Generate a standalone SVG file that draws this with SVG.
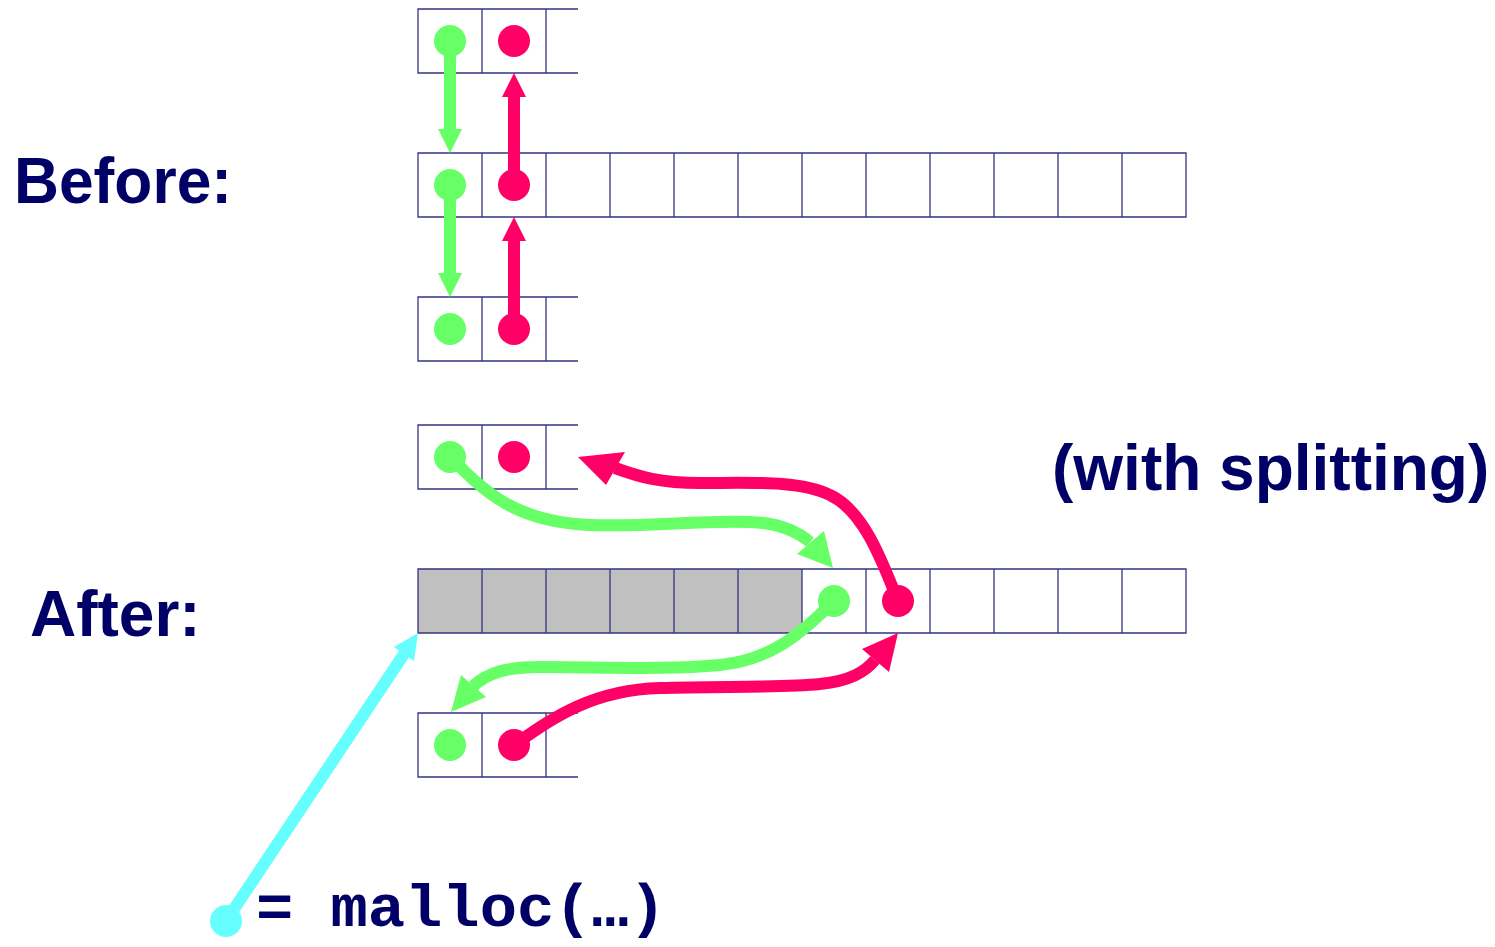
<svg xmlns="http://www.w3.org/2000/svg" width="1495" height="947" viewBox="0 0 1495 947">
<style>
.cell{fill:none;stroke:#34347f;stroke-width:1.3}
.gray{fill:#c0c0c0;stroke:none}
.lbl{font-family:"Liberation Sans",Arial,sans-serif;font-weight:bold;font-size:64px;fill:#000066}
.code{font-family:"Liberation Mono","Courier New",monospace;font-weight:bold;font-size:60px;fill:#000066}
.g{fill:#66ff66}
.r{fill:#ff0066}
.c{fill:#66ffff}
.gs{fill:none;stroke:#66ff66;stroke-width:12}
.rs{fill:none;stroke:#ff0066;stroke-width:12}
.cs{fill:none;stroke:#66ffff;stroke-width:12}
</style>
<rect width="1495" height="947" fill="#ffffff"/>

<g id="labels">
<text class="lbl" x="14" y="203" textLength="218" lengthAdjust="spacingAndGlyphs">Before:</text>
<text class="lbl" x="30" y="636">After:</text>
<text class="lbl" x="1052" y="490">(with splitting)</text>
<text class="code" x="256" y="926" textLength="410" lengthAdjust="spacingAndGlyphs">= malloc(…)</text>
</g>

<g id="before-top">
<path class="cell" d="M578,9 H418 V73 H578 M482,9 V73 M546,9 V73"/>
</g>
<g id="before-mid">
<path class="cell" d="M418,153 H1186 V217 H418 Z M482,153 V217 M546,153 V217 M610,153 V217 M674,153 V217 M738,153 V217 M802,153 V217 M866,153 V217 M930,153 V217 M994,153 V217 M1058,153 V217 M1122,153 V217"/>
</g>
<g id="before-bot">
<path class="cell" d="M578,297 H418 V361 H578 M482,297 V361 M546,297 V361"/>
</g>
<g id="after-top">
<path class="cell" d="M578,425 H418 V489 H578 M482,425 V489 M546,425 V489"/>
</g>
<g id="after-mid">
<rect class="gray" x="418" y="569" width="384" height="64"/>
<path class="cell" d="M418,569 H1186 V633 H418 Z M482,569 V633 M546,569 V633 M610,569 V633 M674,569 V633 M738,569 V633 M802,569 V633 M866,569 V633 M930,569 V633 M994,569 V633 M1058,569 V633 M1122,569 V633"/>
</g>
<g id="after-bot">
<path class="cell" d="M578,713 H418 V777 H578 M482,713 V777 M546,713 V777"/>
</g>

<g id="connectors">
<path class="gs" d="M450,41 V131"/>
<polygon class="g" points="438,129 462,129 450,153"/>
<path class="gs" d="M450,185 V275"/>
<polygon class="g" points="438,273 462,273 450,297"/>
<path class="rs" d="M514,185 V95"/>
<polygon class="r" points="502,97 526,97 514,73"/>
<path class="rs" d="M514,329 V239"/>
<polygon class="r" points="502,241 526,241 514,217"/>
<path class="gs" d="M450,457 C485,492 515,522 590,525 C650,527 700,520 750,522 C780,523 798,532 810,542"/>
<polygon class="g" points="797,554 824,531 833,568"/>
<path class="rs" d="M898,601 C880,555 862,510 830,495 C800,480 750,483 700,483 C660,483 640,477 615,468"/>
<polygon class="r" points="625,452 606,485 578,457"/>
<path class="gs" d="M834,601 C800,635 770,660 720,665 C670,670 600,667 540,667 C505,667 488,673 473,686"/>
<polygon class="g" points="461,675 486,697 451,712"/>
<path class="rs" d="M514,745 C550,720 590,690 660,688 C720,686 780,688 820,684 C850,681 865,672 875,660"/>
<polygon class="r" points="862,649 889,672 898,633"/>
<path class="cs" d="M226,921 L406,651"/>
<polygon class="c" points="394,647 414,661 418,633"/>
</g>

<g id="dots">
<circle class="g" cx="450" cy="41" r="16"/>
<circle class="r" cx="514" cy="41" r="16"/>
<circle class="g" cx="450" cy="185" r="16"/>
<circle class="r" cx="514" cy="185" r="16"/>
<circle class="g" cx="450" cy="329" r="16"/>
<circle class="r" cx="514" cy="329" r="16"/>
<circle class="g" cx="450" cy="457" r="16"/>
<circle class="r" cx="514" cy="457" r="16"/>
<circle class="g" cx="834" cy="601" r="16"/>
<circle class="r" cx="898" cy="601" r="16"/>
<circle class="g" cx="450" cy="745" r="16"/>
<circle class="r" cx="514" cy="745" r="16"/>
<circle class="c" cx="226" cy="921" r="16"/>
</g>
</svg>
